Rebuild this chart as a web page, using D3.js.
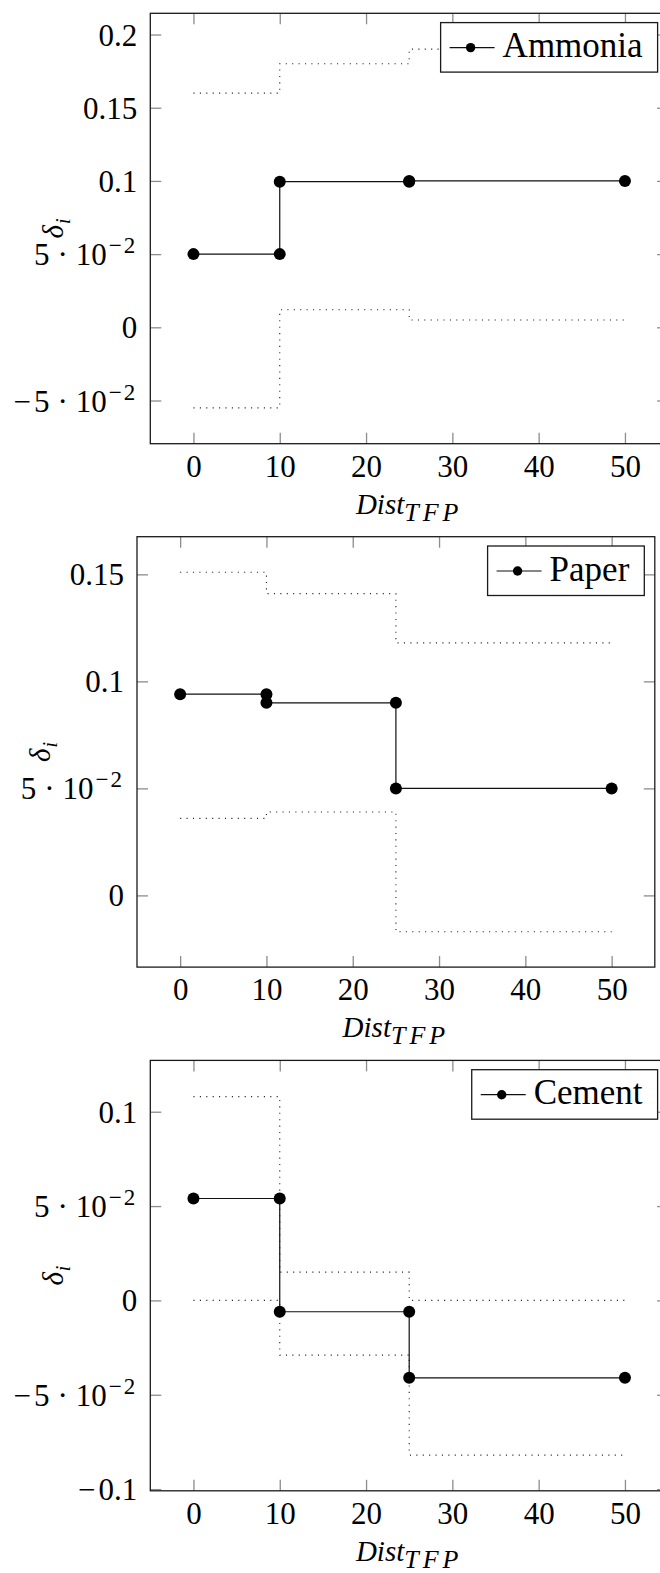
<!DOCTYPE html>
<html>
<head>
<meta charset="utf-8">
<script src="https://cdn.jsdelivr.net/npm/d3@7"></script>
<style>
  body { margin: 0; background: #fff; }
  svg { display: block; }
  text { font-family: "Liberation Serif", "DejaVu Serif", serif; fill: #000; }
</style>
</head>
<body>
<div id="chart"></div>
<script>
// x values of the step curves and the x ticks
const distTicks = [0, 10, 20, 30, 40, 50];
const stepDist = [0, 10, 10, 25, 25, 50];

// Ammonia
const ammoniaDelta = [0.05, 0.05, 0.0995, 0.0995, 0.1, 0.1];
const ammoniaUpper = [0.16, 0.16, 0.18, 0.18, 0.19, 0.19];
const ammoniaLower = [-0.055, -0.055, 0.012, 0.012, 0.005, 0.005];
const ammoniaTicks = [-0.05, 0, 0.05, 0.1, 0.15, 0.2];

// Paper
const paperDelta = [0.094, 0.094, 0.09, 0.09, 0.05, 0.05];
const paperUpper = [0.151, 0.151, 0.141, 0.141, 0.118, 0.118];
const paperLower = [0.036, 0.036, 0.039, 0.039, -0.017, -0.017];
const paperTicks = [0, 0.05, 0.1, 0.15];

// Cement
const cementDelta = [0.054, 0.054, -0.006, -0.006, -0.041, -0.041];
const cementUpper = [0.108, 0.108, 0.015, 0.015, 0, 0];
const cementLower = [0, 0, -0.029, -0.029, -0.082, -0.082];
const cementTicks = [-0.1, -0.05, 0, 0.05, 0.1];

const panels = [
  { name: 'Ammonia', top: 13.3, left: 150.3, yDomain: [-0.0795, 0.2145], ticks: ammoniaTicks,
    main: ammoniaDelta, upper: ammoniaUpper, lower: ammoniaLower, labX: 63 },
  { name: 'Paper', top: 536.7, left: 137, yDomain: [-0.0335, 0.1676], ticks: paperTicks,
    main: paperDelta, upper: paperUpper, lower: paperLower, labX: 50 },
  { name: 'Cement', top: 1060.4, left: 150.3, yDomain: [-0.1009, 0.1272], ticks: cementTicks,
    main: cementDelta, upper: cementUpper, lower: cementLower, labX: 63 }
];

const plotW = 517.8, plotH = 430.4;

const svg = d3.select('#chart').append('svg').attr('width', 660).attr('height', 1573);

// tick label like pgfplots: 0.1, 5·10^-2, ...
function tickLabel(sel, v) {
  sel.text(null);
  const a = Math.abs(v);
  if (v < 0) sel.append('tspan').text('\u2212').attr('letter-spacing', 0);
  if (Math.abs(a - 0.05) < 1e-9) {
    sel.append('tspan').text('5').attr('dx', v < 0 ? 3 : 0);
    sel.append('tspan').text('\u00b7').attr('dx', 8);
    sel.append('tspan').text('10').attr('dx', 8);
    sel.append('tspan').text('\u22122').attr('font-size', 23).attr('dy', -12)
      .attr('dx', 2).attr('letter-spacing', 2);
  } else {
    sel.append('tspan').text(String(a)).attr('dx', v < 0 ? 3 : 0);
  }
}

function styleTicks(ax) {
  ax.attr('font-family', null).attr('font-size', null);
  ax.select('.domain').remove();
  ax.selectAll('.tick line').attr('stroke', '#8c8c8c').attr('stroke-width', 1.3);
}

panels.forEach(p => {
  const x = d3.scaleLinear().domain([-5, 55]).range([p.left, p.left + plotW]);
  const y = d3.scaleLinear().domain(p.yDomain).range([p.top + plotH, p.top]);
  const g = svg.append('g');
  const bottom = p.top + plotH, right = p.left + plotW;

  // bottom axis with labels
  const ax = g.append('g').attr('transform', `translate(0,${bottom})`)
    .call(d3.axisBottom(x).tickValues(distTicks).tickSize(-11).tickSizeOuter(0));
  styleTicks(ax);
  ax.selectAll('.tick text').attr('y', 33).attr('dy', null).attr('font-size', 31);

  g.append('g').attr('transform', `translate(0,${p.top})`)
    .call(d3.axisTop(x).tickValues(distTicks).tickSize(-11).tickSizeOuter(0).tickFormat(() => ''))
    .call(styleTicks);

  // left axis with labels
  const ay = g.append('g').attr('transform', `translate(${p.left},0)`)
    .call(d3.axisLeft(y).tickValues(p.ticks).tickSize(-11).tickSizeOuter(0));
  styleTicks(ay);
  ay.selectAll('.tick text').attr('x', -13).attr('y', 10.5).attr('dy', null)
    .attr('font-size', 31).each(function(d) { tickLabel(d3.select(this), d); });

  g.append('g').attr('transform', `translate(${right},0)`)
    .call(d3.axisRight(y).tickValues(p.ticks).tickSize(-11).tickSizeOuter(0).tickFormat(() => ''))
    .call(styleTicks);

  // frame
  g.append('rect').attr('x', p.left).attr('y', p.top).attr('width', plotW).attr('height', plotH)
    .attr('fill', 'none').attr('stroke', '#1a1a1a').attr('stroke-width', 1.3);

  const line = d3.line().x(d => x(d[0])).y(d => y(d[1]));

  // dotted bands
  [p.upper, p.lower].forEach(vals => {
    g.append('path').attr('d', line(d3.zip(stepDist, vals)))
      .attr('fill', 'none').attr('stroke', '#222').attr('stroke-width', 1.1)
      .attr('stroke-dasharray', '1.1,5.3');
  });

  // main series
  const pts = d3.zip(stepDist, p.main);
  g.append('path').attr('d', line(pts))
    .attr('fill', 'none').attr('stroke', '#111').attr('stroke-width', 1.2);
  g.selectAll('circle.pt').data(pts).join('circle').attr('class', 'pt')
    .attr('cx', d => x(d[0])).attr('cy', d => y(d[1])).attr('r', 6).attr('fill', '#000');

  // axis labels
  const xl = g.append('text').attr('x', (p.left + right) / 2).attr('y', bottom + 70)
    .attr('text-anchor', 'middle').attr('font-style', 'italic').attr('font-size', 29);
  xl.append('tspan').text('Dist');
  xl.append('tspan').text('TFP').attr('font-size', 26).attr('dy', 7).attr('letter-spacing', 4);

  const yl = g.append('text').attr('transform', `translate(${p.labX},${p.top + plotH / 2}) rotate(-90)`)
    .attr('text-anchor', 'middle').attr('font-style', 'italic').attr('font-size', 29);
  yl.append('tspan').text('\u03b4');
  yl.append('tspan').text('i').attr('font-size', 20).attr('dy', 7).attr('dx', 1);

  // legend
  const lg = g.append('g');
  const txt = lg.append('text').attr('font-size', 35).text(p.name);
  const tw = txt.node().getComputedTextLength();
  const bx1 = right - 10.5, bx0 = bx1 - 15 - tw - 62, by0 = p.top + 9.3;
  lg.insert('rect', 'text').attr('x', bx0).attr('y', by0).attr('width', bx1 - bx0).attr('height', 49.5)
    .attr('fill', '#fff').attr('stroke', '#1a1a1a').attr('stroke-width', 1.3);
  lg.append('line').attr('x1', bx0 + 9).attr('x2', bx0 + 54).attr('y1', by0 + 25).attr('y2', by0 + 25)
    .attr('stroke', '#111').attr('stroke-width', 1.2);
  lg.append('circle').attr('cx', bx0 + 30).attr('cy', by0 + 25).attr('r', 4.7).attr('fill', '#000');
  txt.attr('x', bx0 + 62).attr('y', by0 + 34.5);
});
</script>
</body>
</html>
